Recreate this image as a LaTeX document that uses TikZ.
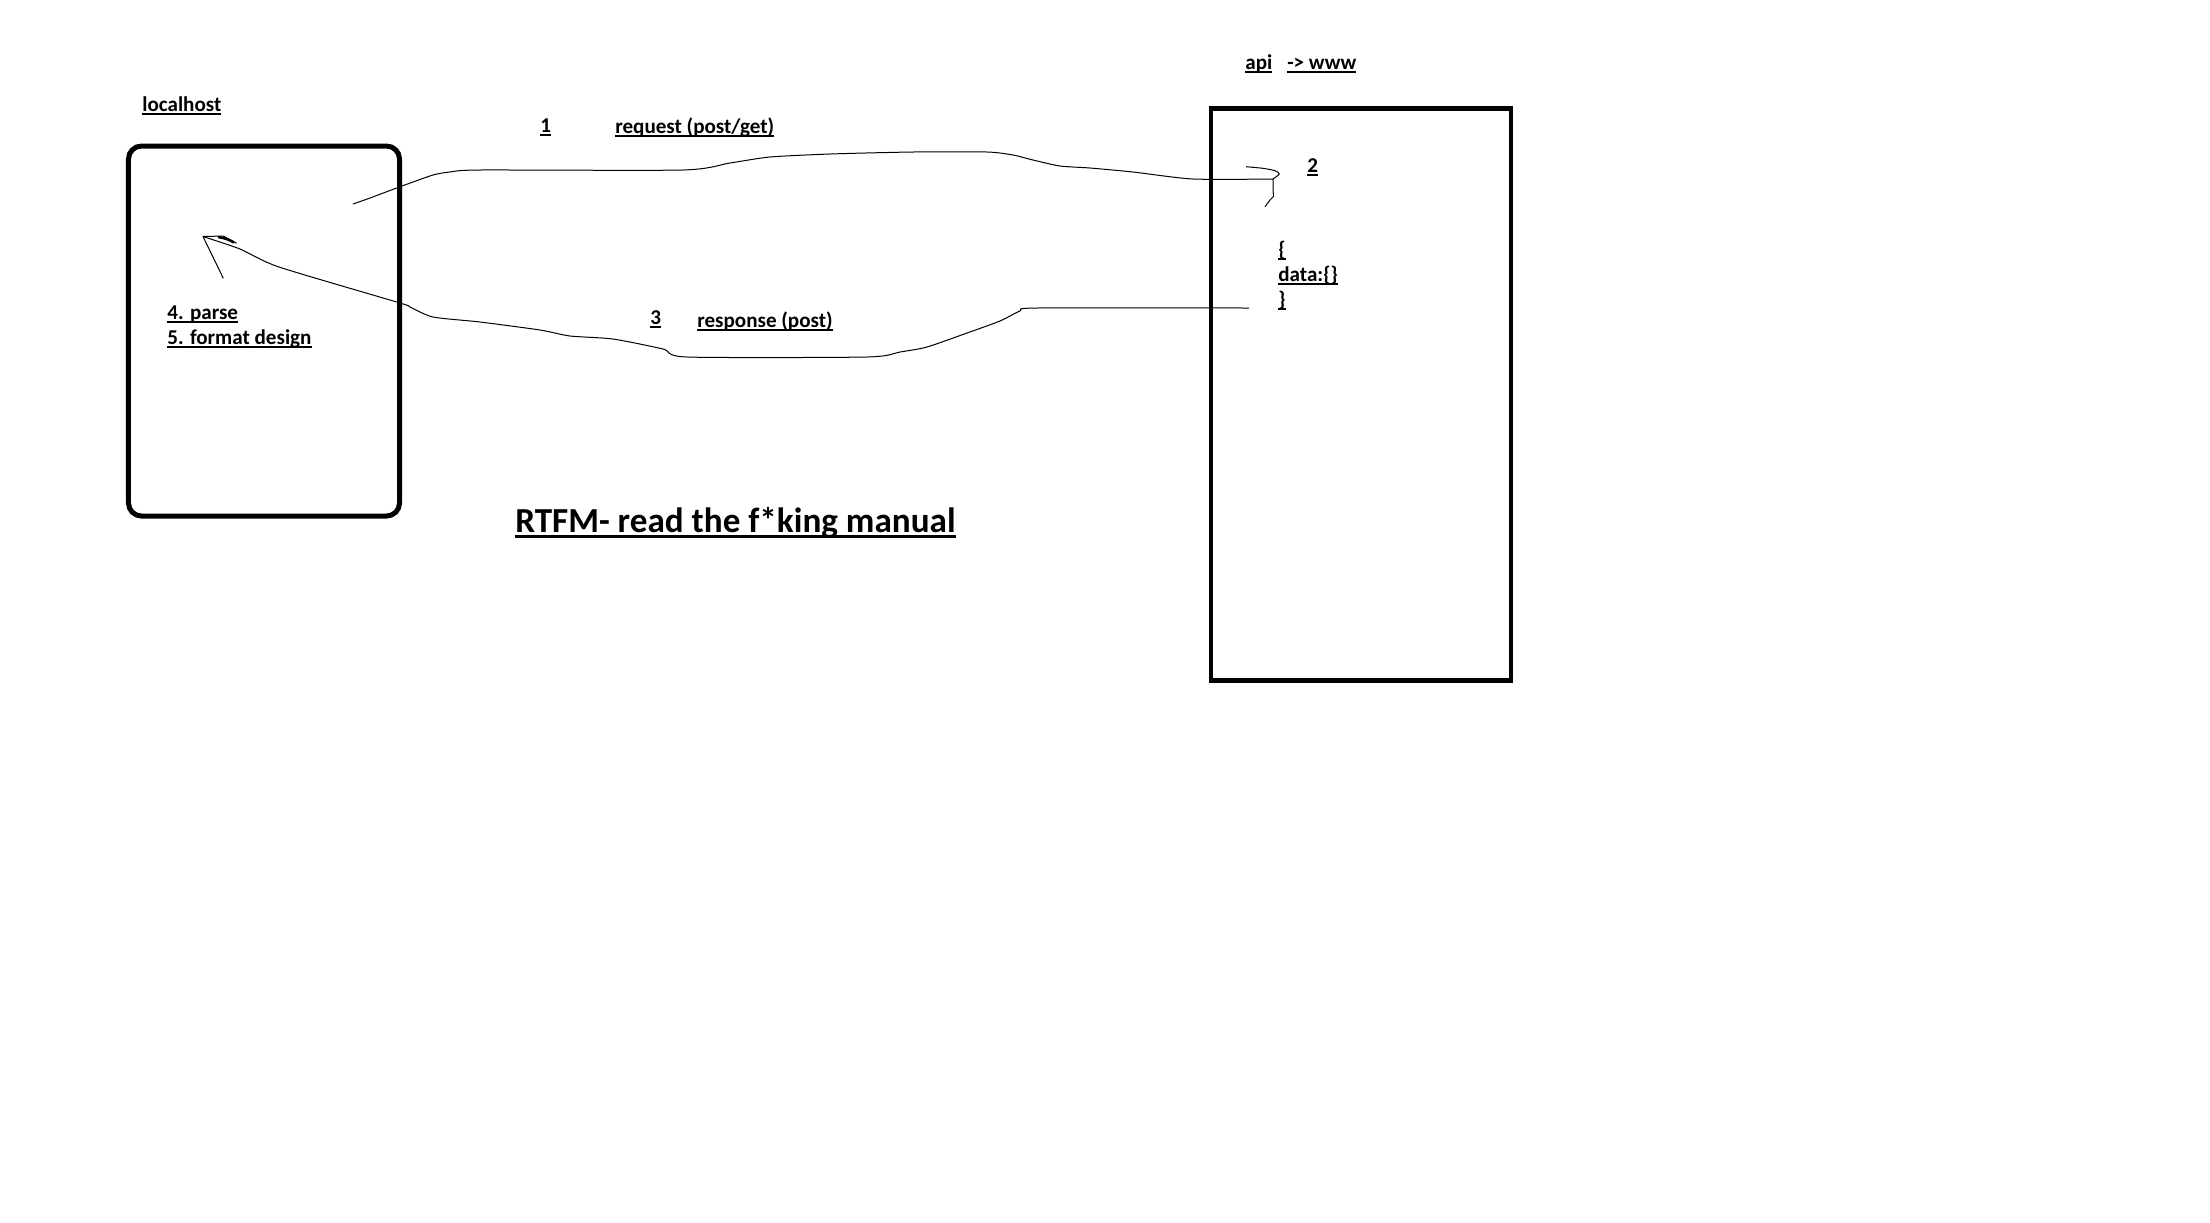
\documentclass[tikz,border=0pt]{standalone}
\usepackage{fontspec}
\setmainfont{Carlito}
\usepackage{tikz}
\usetikzlibrary{positioning}
\newcommand{\ultxt}[1]{\setbox0\hbox{#1}\rlap{\rule[-0.17em]{\wd0}{0.09em}}\box0}

\begin{document}
\begin{tikzpicture}[
  x=0.2mm, y=-0.2mm,
  label/.style={inner sep=0pt, anchor=base west, align=left,
    font=\fontsize{12}{14.2}\selectfont\bfseries},
  title/.style={inner sep=0pt, anchor=base west,
    font=\fontsize{20}{24}\selectfont\bfseries},
  hostbox/.style={draw, line width=1mm, inner sep=0pt, outer sep=0pt},
  wire/.style={line width=0.2mm, line join=round},
]
  \useasboundingbox (0,0) rectangle (2210,1222);

  % Boxes
  \node (local) [hostbox, rounded corners=2.6mm, minimum width=54.2mm,
    minimum height=74mm] at (264,331) {};
  \node (api) [hostbox, line width=0.85mm, minimum width=60mm,
    minimum height=114.4mm] at (1361.3,394.6) {};

  % Labels (multi-line ones sit on the baseline of their last line)
  \node (localname) [label] at (142,111) {\ultxt{localhost}};
  \node (apiname) [label] at (1245,69) {\ultxt{api}\hspace{3mm}\ultxt{-> www}};
  \node (steps) [label] at (167,344) {\ultxt{4. parse}\\\ultxt{5. format design}};
  \node (one) [label] at (540,132) {\ultxt{1}};
  \node (req) [label] at (615,133) {\ultxt{request (post/get)}};
  \node (two) [label] at (1307,172) {\ultxt{2}};
  \node (json) [label] at (1278,306) {\ultxt{\{}\\\ultxt{data:\{\}}\\\ultxt{\}}};
  \node (three) [label] at (650,324) {\ultxt{3}};
  \node (res) [label] at (697,327) {\ultxt{response (post)}};
  \node (rtfm) [title] at (515,532) {\ultxt{RTFM- read the f*king manual}};

  % Free ends of the hand-drawn connectors
  \coordinate (reqStart) at (353,204);
  \coordinate (reqEnd) at (1273,179);
  \coordinate (resStart) at (1249,308);
  \coordinate (resEnd) at (203,236.5);

  % 1: request, localhost -> api
  \draw[wire] plot[smooth, tension=0.4] coordinates {(reqStart) (370,198)
    (402,186) (433,175) (450,172) (480,170) (683,170) (730,163) (770,157)
    (830,154) (913,152) (987,152) (1013,155) (1033,160) (1060,166)
    (1090,168) (1133,172) (1193,179) (reqEnd)};
  \draw[wire] plot[smooth, tension=0.4] coordinates {(1246,166.7)
    (1263,168.3) (1275,170.7) (1279.3,174) (reqEnd)};
  \draw[wire] (reqEnd) -- (1273.3,196.7) -- (1270,200) -- (1265,206.7);

  % 3: response, api -> localhost
  \draw[wire] plot[smooth, tension=0.4] coordinates {(resStart) (1037,308)
    (1020,311) (1000,321) (967,333) (927,347) (900,352) (867,357)
    (687,357) (663,349) (613,339) (570,336) (540,330) (480,322) (433,317)
    (410,307) (400,303) (279,267) (240,249) (resEnd)};
  \draw[wire] (223.3,278.3) -- (resEnd) -- (223.3,236) -- (236.7,243.3);
  \draw[line width=0.5mm] (218,237) to[bend left=10] (234,242.5);
\end{tikzpicture}
\end{document}
